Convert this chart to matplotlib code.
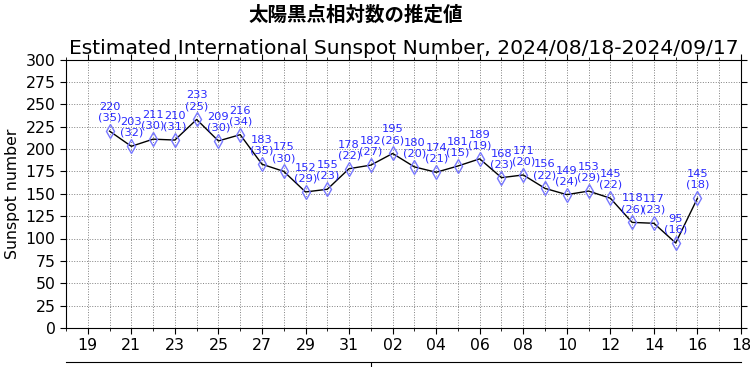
import matplotlib
matplotlib.use("Agg")
import matplotlib.pyplot as plt
import matplotlib.dates as mdates
import numpy as np
import pandas as pd

plt.rcParams['font.family'] = ['DejaVu Sans', 'Noto Sans CJK JP']

dates = pd.date_range("2024-08-20", "2024-09-16", freq="D")
ssn = [220, 203, 211, 210, 233, 209, 216, 183, 175, 152, 155, 178, 182, 195,
       180, 174, 181, 189, 168, 171, 156, 149, 153, 145, 118, 117, 95, 145]
nstations = [35, 32, 30, 31, 25, 30, 34, 35, 30, 29, 23, 22, 27, 26,
             20, 21, 15, 19, 23, 20, 22, 24, 29, 22, 26, 23, 16, 18]

suptitle = "太陽黒点相対数の推定値"
title = "Estimated International Sunspot Number, 2024/08/18-2024/09/17"
ylabel = "Sunspot number"
xstart, xend = pd.Timestamp("2024-08-18"), pd.Timestamp("2024-09-18")
yticks = list(range(0, 301, 25))

fig = plt.figure(figsize=(7.5, 3.67), dpi=100)
ax = fig.add_axes([66/750, 1 - 328/367, (741-66)/750, (328-59.5)/367])

ax.plot(dates, ssn, color='black', lw=1.0, zorder=3)
ax.plot(dates, ssn, ls='none', marker='d', ms=7.5, mfc='none',
        mec='#7777ff', mew=1.0, zorder=4)
for d, v, n in zip(dates, ssn, nstations):
    ax.annotate(f"{v}\n({n})", (d, v), xytext=(0, 6), textcoords='offset points',
                ha='center', va='bottom', color='#2a2aff', fontsize=8.2,
                linespacing=1.1, zorder=5)

ax.set_xlim(xstart, xend)
ax.set_ylim(0, 300)
ax.set_yticks(yticks)
major = pd.date_range("2024-08-19", "2024-09-18", freq="2D")
minor = pd.date_range(xstart, xend, freq="D")
ax.set_xticks(major)
ax.set_xticks(minor, minor=True)
ax.xaxis.set_major_formatter(mdates.DateFormatter('%d'))
ax.tick_params(axis='both', which='major', labelsize=11.3, direction='out',
               top=True, right=True, length=4)
ax.tick_params(axis='x', which='minor', top=True, direction='out', length=2.5)
ax.grid(True, which='major', color='gray', ls=':', lw=0.7)
ax.grid(True, which='minor', axis='x', color='gray', ls=':', lw=0.7)
ax.set_ylabel(ylabel, fontsize=11.3)
ax.set_title(title, fontsize=14.6, pad=4)
fig.text(356/750, 1 - 15/367, suptitle, ha='center', va='center',
         fontsize=14, fontweight='bold', family=['Noto Sans CJK JP', 'DejaVu Sans'])

sec = ax.secondary_xaxis(-0.127)
sec.set_xticks([pd.Timestamp("2024-09-01")])
sec.set_xticklabels([""])
sec.tick_params(direction='out', length=4)

fig.savefig("out.png", dpi=100)
